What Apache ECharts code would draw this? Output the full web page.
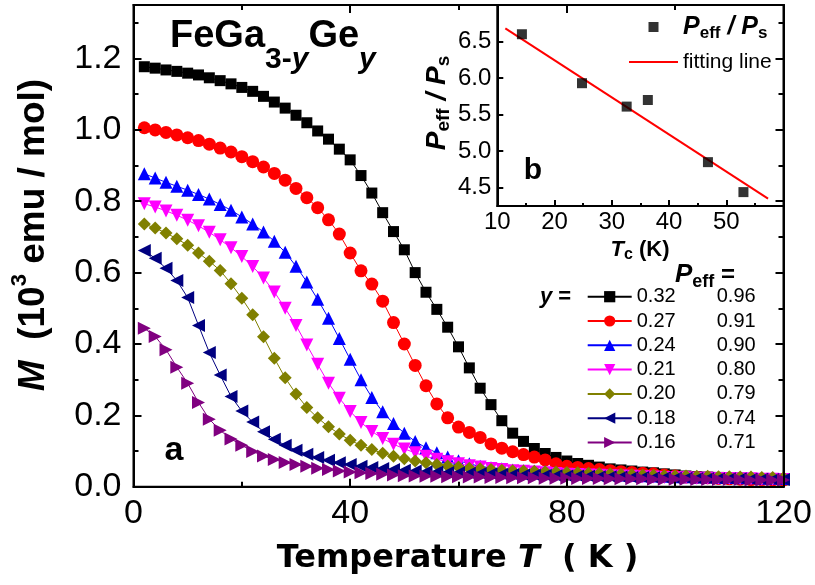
<!DOCTYPE html>
<html><head><meta charset="utf-8">
<script src="https://cdn.jsdelivr.net/npm/echarts@6/dist/echarts.min.js"></script>
<style>html,body{margin:0;padding:0;background:#fff}#c{width:815px;height:585px}</style>
</head><body><div id="c"></div>
<script>
// ---------- data ----------
const temperature = [2,4,6,8,10,12,14,16,18,20,22,24,26,28,30,32,34,36,38,40,
  42,44,46,48,50,52,54,56,58,60,62,64,66,68,70,72,74,76,78,80,
  82,84,86,88,90,92,94,96,98,100,102,104,106,108,110,112,114,116,118,120];

const m032 = [1.177,1.173,1.168,1.164,1.159,1.154,1.146,1.138,1.129,1.119,
  1.108,1.094,1.078,1.061,1.041,1.020,0.997,0.974,0.946,0.916,
  0.872,0.823,0.768,0.715,0.664,0.600,0.545,0.497,0.447,0.392,
  0.333,0.276,0.230,0.185,0.150,0.127,0.107,0.093,0.082,0.072,
  0.065,0.060,0.055,0.050,0.047,0.044,0.041,0.039,0.036,0.033,
  0.030,0.028,0.027,0.026,0.025,0.024,0.023,0.021,0.020,0.019];
const m027 = [1.006,1.000,0.993,0.986,0.978,0.970,0.960,0.949,0.938,0.925,
  0.911,0.896,0.878,0.859,0.836,0.810,0.782,0.748,0.708,0.655,
  0.605,0.568,0.520,0.460,0.400,0.340,0.283,0.232,0.193,0.167,
  0.152,0.138,0.120,0.108,0.098,0.090,0.083,0.075,0.064,0.057,
  0.054,0.051,0.048,0.045,0.042,0.040,0.038,0.036,0.033,0.030,
  0.027,0.026,0.025,0.023,0.022,0.021,0.020,0.020,0.019,0.019];
const m024 = [0.877,0.865,0.853,0.842,0.831,0.819,0.806,0.791,0.775,0.756,
  0.736,0.714,0.688,0.657,0.618,0.574,0.525,0.472,0.415,0.357,
  0.300,0.250,0.210,0.177,0.150,0.127,0.109,0.095,0.083,0.073,
  0.064,0.057,0.053,0.050,0.047,0.045,0.043,0.041,0.039,0.038,
  0.037,0.036,0.035,0.034,0.033,0.032,0.031,0.030,0.029,0.028,
  0.028,0.027,0.027,0.026,0.026,0.025,0.025,0.024,0.024,0.023];
const m021 = [0.793,0.784,0.773,0.761,0.747,0.731,0.713,0.692,0.670,0.645,
  0.617,0.585,0.546,0.500,0.452,0.397,0.343,0.290,0.248,0.211,
  0.180,0.155,0.135,0.119,0.106,0.095,0.085,0.077,0.070,0.064,
  0.059,0.055,0.051,0.048,0.045,0.043,0.041,0.039,0.037,0.035,
  0.034,0.033,0.032,0.031,0.030,0.029,0.028,0.027,0.026,0.025,
  0.025,0.024,0.024,0.023,0.023,0.022,0.022,0.021,0.021,0.020];
const m020 = [0.736,0.725,0.711,0.695,0.677,0.655,0.632,0.606,0.569,0.528,
  0.482,0.420,0.360,0.305,0.260,0.222,0.193,0.168,0.148,0.130,
  0.116,0.104,0.094,0.085,0.078,0.072,0.067,0.062,0.058,0.055,
  0.052,0.050,0.048,0.046,0.045,0.044,0.043,0.042,0.041,0.040,
  0.039,0.038,0.037,0.036,0.035,0.034,0.033,0.032,0.031,0.030,
  0.030,0.029,0.029,0.028,0.028,0.027,0.027,0.026,0.026,0.025];
const m018 = [0.662,0.640,0.612,0.578,0.530,0.452,0.376,0.313,0.253,0.212,
  0.181,0.154,0.133,0.116,0.102,0.091,0.082,0.074,0.067,0.062,
  0.057,0.054,0.051,0.048,0.046,0.044,0.042,0.041,0.040,0.039,
  0.038,0.037,0.036,0.035,0.034,0.033,0.033,0.032,0.031,0.030,
  0.030,0.029,0.028,0.028,0.027,0.026,0.026,0.025,0.025,0.024,
  0.024,0.023,0.023,0.022,0.022,0.022,0.021,0.021,0.020,0.020];
const m016 = [0.444,0.421,0.384,0.335,0.290,0.236,0.189,0.158,0.134,0.116,
  0.099,0.086,0.076,0.068,0.062,0.057,0.052,0.048,0.044,0.041,
  0.039,0.037,0.035,0.033,0.031,0.030,0.029,0.029,0.028,0.028,
  0.027,0.027,0.026,0.026,0.025,0.025,0.025,0.024,0.024,0.024,
  0.023,0.023,0.023,0.022,0.022,0.022,0.022,0.021,0.021,0.021,
  0.021,0.020,0.020,0.020,0.020,0.020,0.019,0.019,0.019,0.019];

const yValues = ['0.32','0.27','0.24','0.21','0.20','0.18','0.16'];
const peffValues = ['0.96','0.91','0.90','0.80','0.79','0.74','0.71'];
const magnetization = [m032, m027, m024, m021, m020, m018, m016];

// inset (b)
const insetTc = [14.3, 24.8, 32.6, 36.3, 46.8, 53.0];
const insetRatio = [6.60, 5.93, 5.61, 5.70, 4.85, 4.44];
const fitTc = [11.4, 57.3];
const fitRatio = [6.68, 4.35];

// ---------- styles ----------
const FF = '"Liberation Sans", Arial, sans-serif';
const colors = ['#000000','#ff0000','#0000ff','#ff00ff','#808000','#000080','#800080'];
const symbols = ['rect','circle','triangle','path://M0,0 L10,0 L5,9 Z','diamond',
  'path://M9,0 L9,10 L0,5 Z','path://M0,0 L0,10 L9,5 Z'];
const symbolSizes = [11, 13, 13, 13, 13, 13, 13];
const legendSymbolSizes = [9, 11, 11, 11, 11, 11, 11];

const chart = echarts.init(document.getElementById('c'), null, {renderer:'canvas'});

function axisBase(extra) {
  return Object.assign({
    type:'value', z:5,
    axisLine:{show:true, onZero:false, lineStyle:{color:'#000', width:2}},
    axisTick:{show:true, inside:true, length:8, lineStyle:{color:'#000', width:2}},
    minorTick:{show:true, splitNumber:2, length:5, lineStyle:{color:'#000', width:2}},
    splitLine:{show:false},
    minorSplitLine:{show:false}
  }, extra);
}

const mainSeries = yValues.map((name, k) => ({
  name: name, type:'line', xAxisIndex:0, yAxisIndex:0, z: 2 + k*0.01,
  data: temperature.map((t, i) => [t, magnetization[k][i]]),
  symbol: symbols[k], symbolSize: symbolSizes[k], showSymbol:true, showAllSymbol:true,
  itemStyle:{color: colors[k]},
  lineStyle:{color: colors[k], width:1},
  emphasis:{disabled:true}
}));

const option = {
  animation:false,
  backgroundColor:'#fff',
  grid:[
    {left:133.5, top:5, width:650, height:481.7, show:true, z:0,
     backgroundColor:'#fff', borderColor:'#000', borderWidth:2},
    {left:497.3, top:5, width:286.2, height:201, show:true, z:1,
     backgroundColor:'#fff', borderColor:'#000', borderWidth:2}
  ],
  xAxis:[
    axisBase({gridIndex:0, position:'bottom', min:0, max:120, interval:40,
      axisLabel:{fontSize:34, fontFamily:FF, color:'#000', margin:10}}),
    axisBase({gridIndex:0, position:'top', min:0, max:120, interval:40,
      axisLabel:{show:false}}),
    axisBase({gridIndex:1, position:'bottom', min:10, max:60, interval:10,
      axisTick:{show:true, inside:true, length:6, lineStyle:{color:'#000', width:2}},
      minorTick:{show:true, splitNumber:2, length:3, lineStyle:{color:'#000', width:2}},
      axisLabel:{fontSize:24, fontFamily:FF, color:'#000', margin:4, showMaxLabel:false}})
  ],
  yAxis:[
    axisBase({gridIndex:0, position:'left', min:0, max:1.35, interval:0.2,
      axisLabel:{fontSize:34, fontFamily:FF, color:'#000', margin:12, showMaxLabel:false,
        formatter: v => v.toFixed(1)}}),
    axisBase({gridIndex:0, position:'right', min:0, max:1.35, interval:0.2,
      axisLabel:{show:false}}),
    axisBase({gridIndex:1, position:'left', min:4.25, max:7.0, interval:0.25,
      axisTick:{show:true, inside:true, length:6, lineStyle:{color:'#000', width:2},
        customValues:[4.5,5.0,5.5,6.0,6.5]},
      minorTick:{show:false},
      axisLabel:{fontSize:24, fontFamily:FF, color:'#000', margin:6,
        customValues:[4.5,5.0,5.5,6.0,6.5],
        formatter: v => v.toFixed(1)}})
  ],
  legend:[
    {data: yValues, orient:'vertical', left:586.7, top:284.7, padding:0,
     itemWidth:44, itemHeight:14, itemGap:0.3, selectedMode:false,
     textStyle:{color:'#000', fontFamily:FF, fontSize:20, lineHeight:24,
       rich:{v:{width:80, fontFamily:FF, fontSize:20, lineHeight:24, color:'#000'},
             p:{fontFamily:FF, fontSize:20, lineHeight:24, color:'#000'}}},
     formatter: name => '{v|' + name + '}{p|' + peffValues[yValues.indexOf(name)] + '}'},
    {data:[{name:'Peff/Ps', icon:'path://M0,0 L0.01,0 L0,0.01 Z M19.5,0 L29.5,0 L29.5,10 L19.5,10 Z M49,10 L48.99,10 L49,9.99 Z'},
           {name:'fitting line', itemStyle:{opacity:0}}],
     orient:'vertical', left:628, top:12, padding:0, z:8,
     itemWidth:49, itemHeight:10, itemGap:9, selectedMode:false, symbolKeepAspect:false,
     textStyle:{color:'#000', fontFamily:FF, fontSize:21, lineHeight:22,
       rich:{
         P:{fontFamily:FF, fontSize:25, fontWeight:'bold', fontStyle:'italic', lineHeight:30, color:'#000'},
         s:{fontFamily:FF, fontSize:17, fontWeight:'bold', lineHeight:18, padding:[12,0,0,0], color:'#000'},
         f:{fontFamily:FF, fontSize:21, lineHeight:22, color:'#000'}}},
     formatter: name => name === 'Peff/Ps' ? '{P|P}{s|eff}{P| / P}{s|s}' : '{f|fitting line}'}
  ],
  series: mainSeries.concat([
    {name:'Peff/Ps', type:'scatter', xAxisIndex:2, yAxisIndex:2, z:6,
     data: insetTc.map((t, i) => [t, insetRatio[i]]),
     symbol:'rect', symbolSize:10, itemStyle:{color:'#000'}, emphasis:{disabled:true}},
    {name:'fitting line', type:'line', xAxisIndex:2, yAxisIndex:2, z:6,
     data: fitTc.map((t, i) => [t, fitRatio[i]]),
     symbol:'none', lineStyle:{color:'#ff0000', width:2}, itemStyle:{color:'#ff0000'},
     emphasis:{disabled:true}}
  ]),
  graphic:[
    {type:'text', z:100, x:170, y:37, style:{
      text:'{b|FeGa}{s|3-}{si|y}{b|Ge}{si|y}', align:'left', verticalAlign:'middle',
      rich:{
        b:{fontFamily:FF, fontSize:38, fontWeight:'bold', lineHeight:44, color:'#000'},
        s:{fontFamily:FF, fontSize:30, fontWeight:'bold', lineHeight:30, padding:[46,0,0,0], color:'#000'},
        si:{fontFamily:FF, fontSize:30, fontWeight:'bold', fontStyle:'italic', lineHeight:30, padding:[46,0,0,0], color:'#000'}}}},
    {type:'text', z:100, x:174, y:451, style:{text:'a', font:'bold 34px ' + FF, fill:'#000', align:'center', verticalAlign:'middle'}},
    {type:'text', z:100, x:533, y:171, style:{text:'b', font:'bold 30px ' + FF, fill:'#000', align:'center', verticalAlign:'middle'}},
    {type:'text', z:100, x:540, y:297, style:{
      text:'{i|y}{n| =}', align:'left', verticalAlign:'middle',
      rich:{i:{fontFamily:FF, fontSize:22, fontWeight:'bold', fontStyle:'italic', color:'#000'},
            n:{fontFamily:FF, fontSize:22, fontWeight:'bold', color:'#000'}}}},
    {type:'text', z:100, x:675, y:275, style:{
      text:'{P|P}{s|eff}{n| =}', align:'left', verticalAlign:'middle',
      rich:{P:{fontFamily:FF, fontSize:26, fontWeight:'bold', fontStyle:'italic', lineHeight:30, color:'#000'},
            s:{fontFamily:FF, fontSize:18, fontWeight:'bold', lineHeight:18, padding:[14,0,0,0], color:'#000'},
            n:{fontFamily:FF, fontSize:24, fontWeight:'bold', lineHeight:30, color:'#000'}}}},
    {type:'text', z:100, x:34, y:235, rotation:Math.PI/2, style:{
      text:'{i|M}{n|  (10}{sup|3}{n| emu / mol)}', align:'center', verticalAlign:'middle',
      rich:{i:{fontFamily:FF, fontSize:37, fontWeight:'bold', fontStyle:'italic', lineHeight:40, color:'#000'},
            n:{fontFamily:FF, fontSize:37, fontWeight:'bold', lineHeight:40, color:'#000'},
            sup:{fontFamily:FF, fontSize:22, fontWeight:'bold', lineHeight:22, padding:[0,0,28,0], color:'#000'}}}},
    {type:'text', z:100, x:457.5, y:559, style:{
      text:'{b|Temperature }{i|T}{b|  ( K )}', align:'center', verticalAlign:'middle',
      rich:{b:{fontFamily:'"DejaVu Sans", sans-serif', fontSize:32, fontWeight:'bold', color:'#000'},
            i:{fontFamily:'"DejaVu Sans", sans-serif', fontSize:32, fontWeight:'bold', fontStyle:'italic', color:'#000'}}}},
    {type:'text', z:100, x:437, y:103, rotation:Math.PI/2, style:{
      text:'{P|P}{s|eff}{P| / P}{s|s}', align:'center', verticalAlign:'middle',
      rich:{P:{fontFamily:FF, fontSize:28, fontWeight:'bold', fontStyle:'italic', lineHeight:32, color:'#000'},
            s:{fontFamily:FF, fontSize:19, fontWeight:'bold', lineHeight:19, padding:[14,0,0,0], color:'#000'}}}},
    {type:'text', z:100, x:640, y:250, style:{
      text:'{T|T}{s|c}{n| (K)}', align:'center', verticalAlign:'middle',
      rich:{T:{fontFamily:FF, fontSize:22, fontWeight:'bold', fontStyle:'italic', lineHeight:26, color:'#000'},
            s:{fontFamily:FF, fontSize:16, fontWeight:'bold', lineHeight:16, padding:[10,0,0,0], color:'#000'},
            n:{fontFamily:FF, fontSize:22, fontWeight:'bold', lineHeight:26, color:'#000'}}}}
  ]
};
chart.setOption(option);
</script></body></html>
